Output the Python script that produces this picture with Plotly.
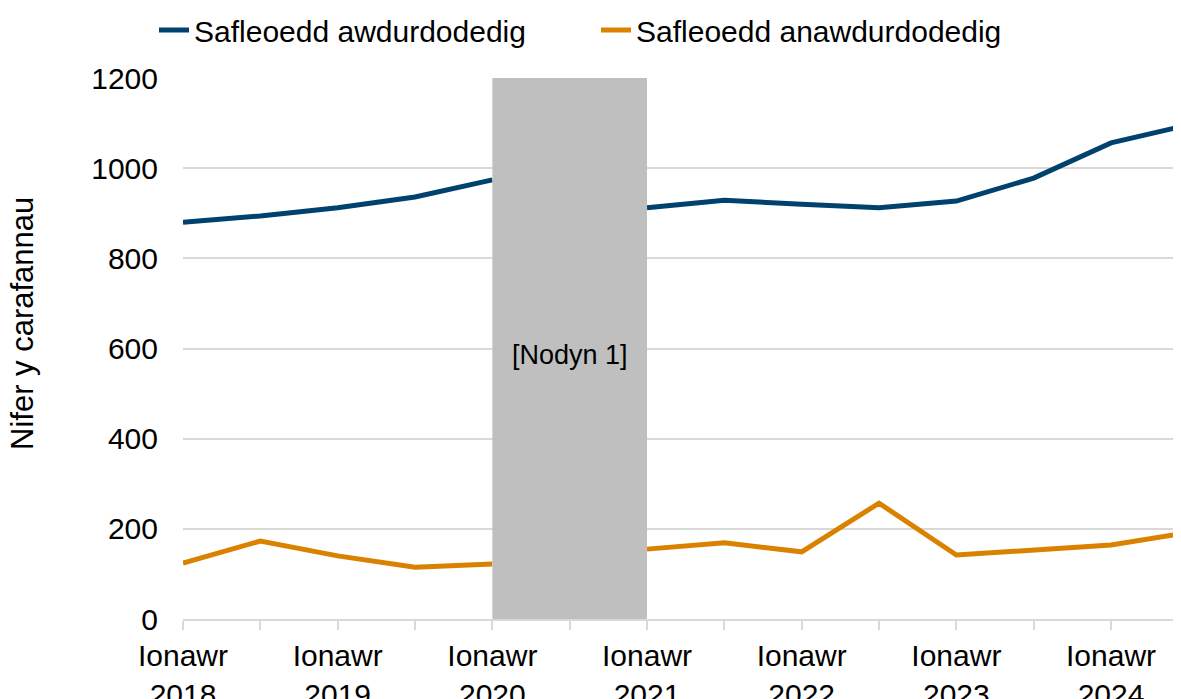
import plotly.graph_objects as go

# Half-yearly periods (January and July of each year)
periods = [2018.0, 2018.5, 2019.0, 2019.5, 2020.0, 2020.5, 2021.0, 2021.5,
           2022.0, 2022.5, 2023.0, 2023.5, 2024.0, 2024.5]
authorised = [880, 894, 912, 936, 974, None, 912, 929,
              920, 912, 927, 978, 1056, 1096]
unauthorised = [124, 173, 140, 115, 122, None, 155, 169,
                 149, 257, 142, 153, 164, 192]

tick_vals = [2018.0, 2018.5, 2019.0, 2019.5, 2020.0, 2020.5, 2021.0, 2021.5,
             2022.0, 2022.5, 2023.0, 2023.5, 2024.0]
tick_text = ["Ionawr<br>2018", "", "Ionawr<br>2019", "", "Ionawr<br>2020", "",
             "Ionawr<br>2021", "", "Ionawr<br>2022", "", "Ionawr<br>2023", "",
             "Ionawr<br>2024"]
y_ticks = [0, 200, 400, 600, 800, 1000, 1200]
y_title = "Nifer y carafannau"

note_start, note_end = 2020.0, 2021.0
note_text = "[Nodyn 1]"

FONT = "Liberation Sans, Arial, sans-serif"
BLUE = "#00416E"
ORANGE = "#DB8100"
GRID = "#D9D9D9"
# page body has an 8px margin, so the figure is drawn 8px in from the corner
W, H = 1173, 691
PL, PT, PW, PH = 175, 70, 997, 541  # plot area inside the figure

fig = go.Figure()
fig.add_trace(go.Scatter(x=periods, y=authorised, mode="lines",
                         name="Safleoedd awdurdodedig", legend="legend",
                         line=dict(color=BLUE, width=5)))
fig.add_trace(go.Scatter(x=periods, y=unauthorised, mode="lines",
                         name="Safleoedd anawdurdodedig", legend="legend2",
                         line=dict(color=ORANGE, width=5)))

fig.add_shape(type="rect", xref="x", yref="y", x0=note_start, x1=note_end,
              y0=0, y1=1200, fillcolor="#BFBFBF", line=dict(width=0),
              layer="above")
fig.add_annotation(x=(note_start + note_end) / 2, y=585, text=note_text,
                   showarrow=False, font=dict(family=FONT, size=27, color="#000000"))
# y-axis title (sits a little above the plot's mid-height in the reference)
fig.add_annotation(xref="paper", yref="paper", x=(14 - PL) / PW,
                   y=(PT + PH - 316) / PH, text=y_title, textangle=-90,
                   showarrow=False, xanchor="center", yanchor="middle",
                   font=dict(family=FONT, size=31, color="#000000"))

legend_common = dict(orientation="h", xanchor="left", yanchor="middle",
                     xref="container", yref="container",
                     font=dict(family=FONT, size=30, color="#000000"),
                     bgcolor="rgba(0,0,0,0)")

fig.update_layout(
    width=W, height=H,
    margin=dict(l=PL, r=W - PL - PW, t=PT, b=H - PT - PH, autoexpand=False),
    paper_bgcolor="white", plot_bgcolor="white",
    font=dict(family=FONT, size=30, color="#000000"),
    showlegend=True,
    legend=dict(x=146 / W, y=1 - 22 / H, **legend_common),
    legend2=dict(x=588 / W, y=1 - 22 / H, **legend_common),
    xaxis=dict(range=[2018.0, 2024.446], tickmode="array",
               tickvals=tick_vals, ticktext=tick_text, automargin=False,
               showgrid=False, showline=True, linecolor=GRID, linewidth=2,
               ticks="outside", ticklen=9, tickcolor=GRID, tickwidth=2,
               tickfont=dict(family=FONT, size=30), zeroline=False),
    yaxis=dict(range=[0, 1200], tickmode="array", tickvals=y_ticks,
               automargin=False,
               showgrid=True, gridcolor=GRID, gridwidth=2, zeroline=False,
               showline=False, ticks="", ticklabelstandoff=24,
               tickfont=dict(family=FONT, size=30)),
)

fig.write_html("out.html")
